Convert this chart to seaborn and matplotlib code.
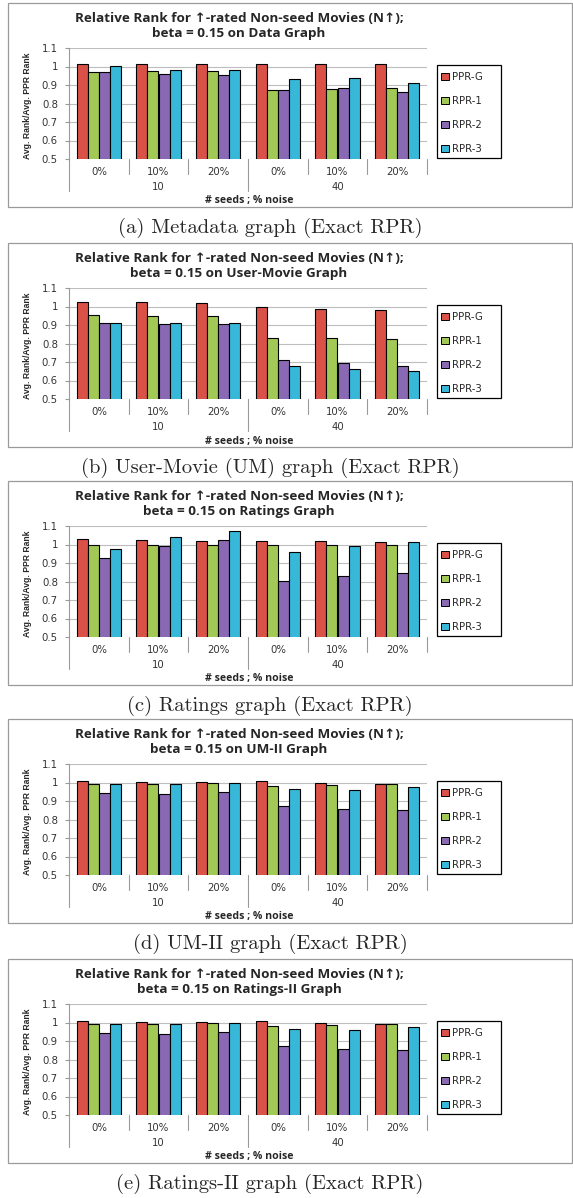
import numpy as np
import pandas as pd
import matplotlib
matplotlib.use('Agg')
import matplotlib.pyplot as plt
import matplotlib.transforms as mtransforms
from matplotlib.patches import Rectangle, Patch
import seaborn as sns

# ---- data ----
methods = ['PPR-G', 'RPR-1', 'RPR-2', 'RPR-3']
seeds = ['10', '40']
noise = ['0%', '10%', '20%']

data_graph = {
    'PPR-G': [1.013, 1.013, 1.012, 1.012, 1.015, 1.013],
    'RPR-1': [0.970, 0.978, 0.977, 0.875, 0.878, 0.885],
    'RPR-2': [0.970, 0.960, 0.955, 0.872, 0.882, 0.860],
    'RPR-3': [1.002, 0.983, 0.980, 0.932, 0.937, 0.912],
}
um_graph = {
    'PPR-G': [1.025, 1.022, 1.020, 0.995, 0.988, 0.980],
    'RPR-1': [0.952, 0.947, 0.948, 0.832, 0.832, 0.825],
    'RPR-2': [0.912, 0.907, 0.907, 0.710, 0.692, 0.677],
    'RPR-3': [0.913, 0.912, 0.912, 0.677, 0.662, 0.652],
}
ratings_graph = {
    'PPR-G': [1.032, 1.025, 1.020, 1.020, 1.020, 1.015],
    'RPR-1': [1.000, 1.000, 1.000, 0.998, 1.000, 1.000],
    'RPR-2': [0.925, 0.990, 1.022, 0.805, 0.830, 0.845],
    'RPR-3': [0.973, 1.042, 1.075, 0.962, 0.990, 1.012],
}
um2_graph = {
    'PPR-G': [1.007, 1.003, 1.002, 1.007, 0.998, 0.990],
    'RPR-1': [0.990, 0.992, 0.997, 0.982, 0.985, 0.992],
    'RPR-2': [0.945, 0.940, 0.950, 0.873, 0.858, 0.853],
    'RPR-3': [0.993, 0.992, 0.997, 0.967, 0.960, 0.975],
}
ratings2_graph = {
    'PPR-G': [1.007, 1.003, 1.002, 1.007, 0.998, 0.990],
    'RPR-1': [0.990, 0.992, 0.995, 0.982, 0.985, 0.992],
    'RPR-2': [0.945, 0.940, 0.950, 0.873, 0.858, 0.853],
    'RPR-3': [0.993, 0.992, 0.995, 0.967, 0.960, 0.975],
}

graph_names = ['Data Graph', 'User-Movie Graph', 'Ratings Graph', 'UM-II Graph', 'Ratings-II Graph']
captions = ['(a) Metadata graph (Exact RPR)',
            '(b) User-Movie (UM) graph (Exact RPR)',
            '(c) Ratings graph (Exact RPR)',
            '(d) UM-II graph (Exact RPR)',
            '(e) Ratings-II graph (Exact RPR)']
panels = [data_graph, um_graph, ratings_graph, um2_graph, ratings2_graph]
yticks = [0.5, 0.6, 0.7, 0.8, 0.9, 1.0, 1.1]
ytick_labels = ['0.5', '0.6', '0.7', '0.8', '0.9', '1', '1.1']

palette = {'PPR-G': '#DA5247', 'RPR-1': '#A2C955', 'RPR-2': '#8A69B4', 'RPR-3': '#38B8D8'}

sns.set_style('white')
plt.rcParams['font.family'] = ['DejaVu Sans']

W, H = 573, 1198
fig = plt.figure(figsize=(W / 100, H / 100), dpi=100)

def fx(x):
    return x / W

def fy(y):
    return 1 - y / H

tops = [3, 243, 481, 719, 959]
title_font = ['Open Sans', 'DejaVu Sans']
ylab_font = ['Liberation Sans Narrow', 'Liberation Sans', 'DejaVu Sans']
small = 7.3

for i, vals in enumerate(panels):
    T = tops[i]
    # outer frame of the excel chart
    fig.patches.append(Rectangle((fx(8), fy(T + 204)), fx(564), 204 / H,
                                 transform=fig.transFigure, fill=False,
                                 edgecolor='#9A9A9A', linewidth=0.9))

    rows = []
    for m in methods:
        for k, v in enumerate(vals[m]):
            rows.append({'cat': seeds[k // 3] + ' ' + noise[k % 3], 'method': m, 'value': v})
    df = pd.DataFrame(rows)
    order = [s + ' ' + n for s in seeds for n in noise]

    ax = fig.add_axes([fx(69), fy(T + 156), fx(427 - 69), (156 - 45) / H])
    sns.barplot(data=df, x='cat', y='value', hue='method', order=order,
                hue_order=methods, palette=palette, saturation=1, width=0.74,
                edgecolor='black', linewidth=0.8, legend=False, ax=ax)
    ax.set_ylim(0.5, 1.1)
    ax.set_xlim(-0.5, 5.5)
    ax.set_yticks(yticks)
    ax.set_yticklabels(ytick_labels, fontsize=small, color='#333333')
    ax.yaxis.grid(True, color='#BDBDBD', linewidth=0.8)
    ax.set_axisbelow(True)
    for s in ['top', 'right', 'bottom']:
        ax.spines[s].set_visible(False)
    ax.spines['left'].set_color('#9A9A9A')
    ax.spines['left'].set_linewidth(0.8)
    ax.tick_params(axis='y', left=True, length=3, width=0.8, color='#9A9A9A', pad=5)
    ax.set_xticks([])
    ax.set_xlabel('')
    ax.set_ylabel('')

    trans = mtransforms.blended_transform_factory(ax.transData, ax.transAxes)
    hpx = 111.0
    # category separators and labels
    for b in np.arange(-0.5, 6.0, 1.0):
        depth = 32 if b in (-0.5, 2.5) else 15
        ax.plot([b, b], [0, -depth / hpx], transform=trans, color='#9A9A9A',
                linewidth=0.8, clip_on=False)
    for k, c in enumerate(order):
        ax.text(k, -13 / hpx, noise[k % 3], transform=trans, ha='center',
                va='center', fontsize=small, color='#333333')
    for g, s in enumerate(seeds):
        ax.text(g * 3 + 1, -28 / hpx, s, transform=trans, ha='center',
                va='center', fontsize=small, color='#333333')

    fig.text(fx(249), fy(T + 198), '# seeds ; % noise', ha='center', va='center',
             fontsize=7.6, fontweight='bold', family=title_font)
    fig.text(fx(28), fy(T + 103), 'Avg. Rank/Avg. PPR Rank', ha='center', va='center',
             rotation=90, fontsize=6.2, fontweight='bold', family=ylab_font)

    fig.text(fx(239), fy(T + 15), 'Relative Rank for \u2191-rated Non-seed Movies (N\u2191);',
             ha='center', va='center', fontsize=9.7, fontweight='bold', family=title_font)
    fig.text(fx(239), fy(T + 30), 'beta = 0.15 on ' + graph_names[i],
             ha='center', va='center', fontsize=9.7, fontweight='bold', family=title_font)

    # legend
    fig.patches.append(Rectangle((fx(437), fy(T + 155)), fx(501 - 437), 93 / H,
                                 transform=fig.transFigure, fill=False,
                                 edgecolor='black', linewidth=0.9))
    handles = [Patch(facecolor=palette[m], edgecolor='black', linewidth=0.7) for m in methods]
    fig.legend(handles, methods, loc='upper left',
               bbox_to_anchor=(fx(439), fy(T + 67)), bbox_transform=fig.transFigure,
               frameon=False, fontsize=small, handlelength=0.75, handleheight=0.75,
               handletextpad=0.3, labelspacing=1.38, borderpad=0.2, borderaxespad=0)

    fig.text(fx(270), fy(T + 225), captions[i], ha='center', va='center',
             fontsize=14.8, family=['cmr10', 'DejaVu Serif'])

fig.savefig('out.png', dpi=100)
